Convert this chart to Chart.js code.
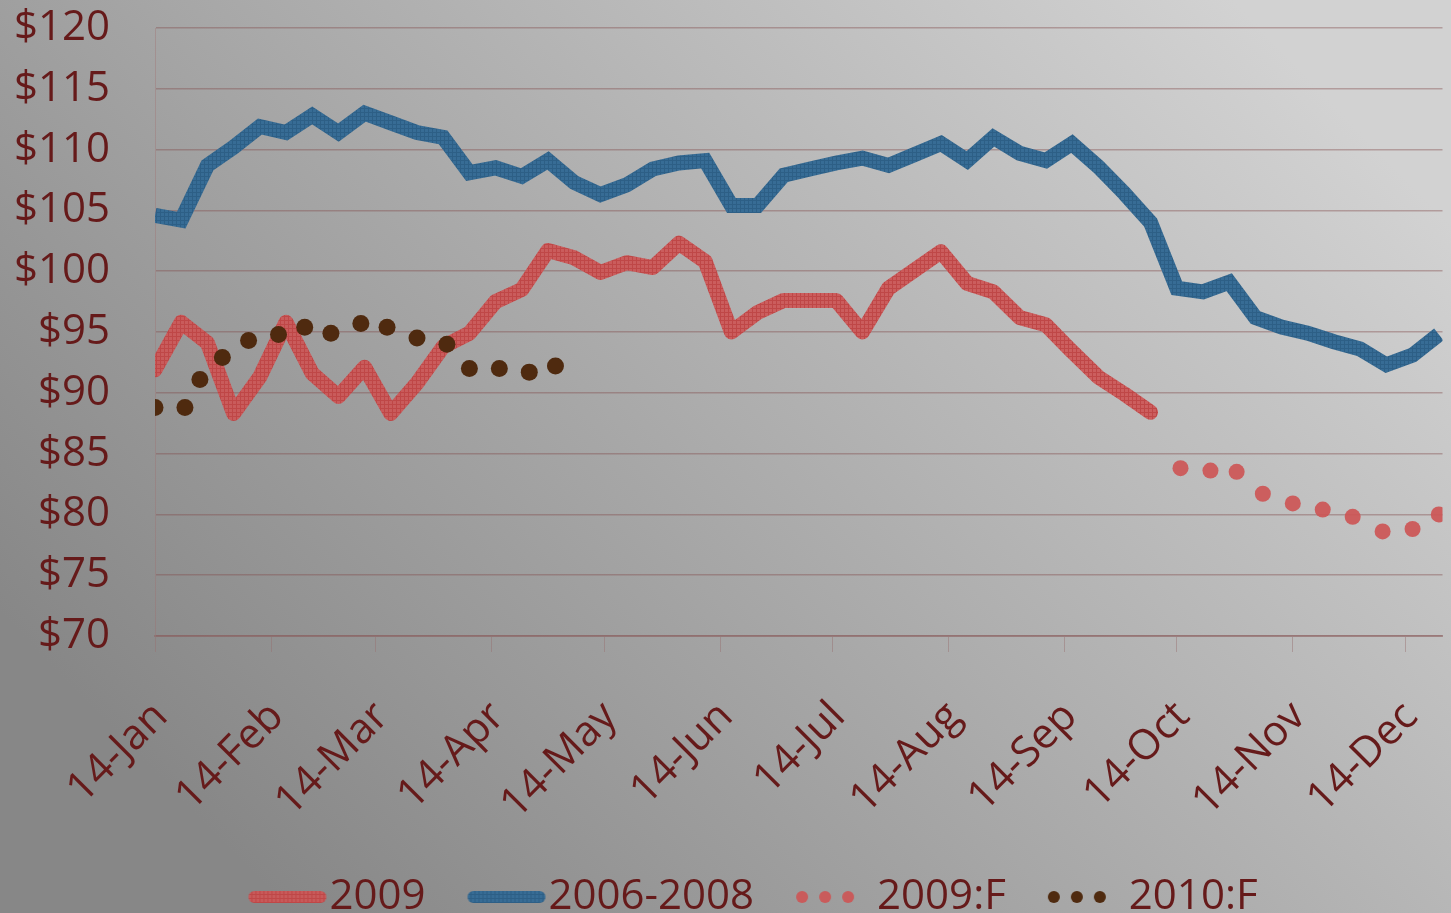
<!DOCTYPE html>
<html>
<head>
<meta charset="utf-8">
<script src="https://cdn.jsdelivr.net/npm/chart.js@4"></script>
<style>
  html, body { margin: 0; padding: 0; background: #a0a0a0; }
</style>
</head>
<body>
<canvas id="priceChart" width="1451" height="913"></canvas>
<script>
// weekly observation dates (month-day) for the two solid lines
var weekDates = ["01-14","01-21","01-28","02-04","02-11","02-18","02-25","03-04","03-11","03-18",
                 "03-25","04-01","04-08","04-15","04-22","04-29","05-06","05-13","05-20","05-27",
                 "06-03","06-10","06-17","06-24","07-01","07-08","07-15","07-22","07-29","08-05",
                 "08-12","08-19","08-26","09-02","09-09","09-16","09-23","09-30","10-07","10-14",
                 "10-21","10-28","11-04","11-11","11-18","11-25","12-02","12-09","12-16","12-23"];

// 2009 actual (ends early Oct)
var prices2009 = [91.9, 95.8, 94.1, 88.3, 91.3, 95.8, 91.6, 89.7, 92.1, 88.3,
                  90.8, 93.8, 94.9, 97.5, 98.5, 101.7, 101.1, 99.9, 100.7, 100.3,
                  102.3, 100.8, 95.0, 96.6, 97.6, 97.6, 97.6, 95.0, 98.6, 100.1,
                  101.6, 99.0, 98.3, 96.2, 95.6, 93.4, 91.3, 89.9, 88.4];

// 2006-2008 average
var prices0608 = [104.6, 104.2, 108.7, 110.2, 111.9, 111.4, 112.8, 111.4, 113.0, 112.2,
                  111.4, 111.0, 108.1, 108.5, 107.8, 109.1, 107.3, 106.3, 107.1, 108.4,
                  108.9, 109.1, 105.4, 105.4, 107.9, 108.4, 108.9, 109.3, 108.7, 109.6,
                  110.5, 109.1, 111.0, 109.7, 109.1, 110.5, 108.6, 106.4, 104.0, 98.6,
                  98.3, 99.1, 96.2, 95.4, 94.9, 94.2, 93.6, 92.3, 93.1, 94.8];

// 2009 forecast
var forecast2009Dates = ["10-15","10-23","10-30","11-06","11-14","11-22","11-30","12-08","12-16","12-23"];
var forecast2009 = [83.8, 83.6, 83.5, 81.7, 80.9, 80.4, 79.8, 78.6, 78.8, 80.0];

// 2010 forecast
var forecast2010Dates = ["01-14","01-22","01-26","02-01","02-08","02-16","02-23","03-02","03-10","03-17",
                         "03-25","04-02","04-08","04-16","04-24","05-01"];
var forecast2010 = [88.8, 88.8, 91.1, 92.9, 94.3, 94.8, 95.4, 94.9, 95.7, 95.4,
                    94.5, 94.0, 92.0, 92.0, 91.7, 92.2];

var monthTickDates = ["01-14","02-14","03-14","04-14","05-14","06-14","07-14","08-14","09-14","10-14","11-14","12-14"];
var monthTickLabels = ["14-Jan","14-Feb","14-Mar","14-Apr","14-May","14-Jun","14-Jul","14-Aug","14-Sep","14-Oct","14-Nov","14-Dec"];
var axisEndDate = "12-24";

var yMin = 70, yMax = 120, yStep = 5;

var labelColor = '#661a1a';
var fontFamily = '"Open Sans", "Noto Sans", sans-serif';
var redBase = 'rgba(204, 86, 86, 0.93)';
var blueBase = '#376c95';
var brown = '#4f2a0f';

// days since 14 Jan
function dayOf(md) {
    var p = md.split('-');
    return (Date.UTC(2009, +p[0] - 1, +p[1]) - Date.UTC(2009, 0, 14)) / 86400000;
}

function toPoints(dates, values) {
    return values.map(function (v, i) { return { x: dayOf(dates[i]), y: v }; });
}

// small cross-hatch texture like the original line fill
function hatch(base, line) {
    var c = document.createElement('canvas');
    c.width = 4; c.height = 4;
    var g = c.getContext('2d');
    g.fillStyle = base;
    g.fillRect(0, 0, 4, 4);
    g.fillStyle = line;
    g.fillRect(0, 0, 4, 1);
    g.fillRect(0, 1, 1, 3);
    return g.createPattern(c, 'repeat');
}

var red = hatch(redBase, 'rgba(190, 70, 70, 0.95)');
var blue = hatch(blueBase, '#2d5f86');

// legend samples
function lineSample(fill) {
    var c = document.createElement('canvas');
    c.width = 80; c.height = 14;
    var g = c.getContext('2d');
    g.fillStyle = fill;
    g.beginPath();
    g.roundRect(1, 1, 78, 12, 6);
    g.fill();
    return c;
}

function dotSample(fill) {
    var c = document.createElement('canvas');
    c.width = 80; c.height = 14;
    var g = c.getContext('2d');
    g.fillStyle = fill;
    [7, 30, 53].forEach(function (x) {
        g.beginPath();
        g.arc(x, 7, 6, 0, Math.PI * 2);
        g.fill();
    });
    return c;
}

var bgPlugin = {
    id: 'bg',
    beforeDraw: function (chart) {
        var ctx = chart.ctx;
        var grad = ctx.createLinearGradient(chart.width * 0.85, 0, chart.width * 0.2, chart.height);
        grad.addColorStop(0, '#d2d2d2');
        grad.addColorStop(1, '#878787');
        ctx.save();
        ctx.fillStyle = grad;
        ctx.fillRect(0, 0, chart.width, chart.height);
        ctx.restore();
    }
};

// centre the legend a little right of the canvas centre, like the original
var legendShift = {
    id: 'legendShift',
    afterLayout: function (chart) {
        chart.legend.left = 73;
    }
};

var ctx = document.getElementById('priceChart');
var priceChart = new Chart(ctx, {
    type: 'line',
    data: {
        datasets: [{
            label: '2009',
            data: toPoints(weekDates, prices2009),
            borderColor: red,
            borderWidth: 15,
            borderJoinStyle: 'round',
            borderCapStyle: 'round',
            pointRadius: 0,
            clip: 0,
            order: 2
        }, {
            label: '2006-2008',
            data: toPoints(weekDates, prices0608),
            borderColor: blue,
            borderWidth: 15,
            borderJoinStyle: 'miter',
            pointRadius: 0,
            clip: 0,
            order: 3
        }, {
            label: '2009:F',
            data: toPoints(forecast2009Dates, forecast2009),
            showLine: false,
            pointRadius: 8,
            pointBackgroundColor: redBase,
            pointBorderWidth: 0,
            clip: 0,
            order: 1
        }, {
            label: '2010:F',
            data: toPoints(forecast2010Dates, forecast2010),
            showLine: false,
            pointRadius: 8.5,
            pointBackgroundColor: brown,
            pointBorderWidth: 0,
            clip: 0,
            order: 0
        }]
    },
    options: {
        responsive: false,
        animation: false,
        layout: {
            padding: { top: 28, left: 0, right: 0, bottom: -15 }
        },
        scales: {
            x: {
                type: 'linear',
                min: 0,
                max: dayOf(axisEndDate),
                afterBuildTicks: function (scale) {
                    scale.ticks = monthTickDates.map(function (d) { return { value: dayOf(d) }; });
                },
                afterFit: function (scale) {
                    scale.height = 180;
                    scale.paddingRight = 0;
                },
                grid: {
                    drawOnChartArea: false,
                    drawTicks: true,
                    tickLength: 16,
                    tickColor: 'rgba(150, 110, 110, 0.45)',
                    tickWidth: 1
                },
                border: { display: true, color: 'rgba(140, 95, 95, 0.5)', width: 2 },
                ticks: {
                    autoSkip: false,
                    minRotation: 45,
                    maxRotation: 45,
                    padding: 40,
                    labelOffset: 6,
                    color: labelColor,
                    font: { family: fontFamily, size: 42 },
                    callback: function (value, index) { return monthTickLabels[index]; }
                }
            },
            y: {
                min: yMin,
                max: yMax,
                afterFit: function (scale) {
                    scale.width = 155;
                    scale.paddingTop = 0;
                    scale.paddingBottom = 0;
                },
                grid: {
                    color: 'rgba(130, 75, 75, 0.4)',
                    lineWidth: 1.5,
                    drawTicks: false
                },
                border: { display: true, color: 'rgba(160, 110, 110, 0.35)', width: 1 },
                ticks: {
                    stepSize: yStep,
                    padding: 45,
                    color: labelColor,
                    font: { family: fontFamily, size: 42 },
                    callback: function (v) { return '$' + v; }
                }
            }
        },
        plugins: {
            tooltip: { enabled: false },
            legend: {
                position: 'bottom',
                labels: {
                    usePointStyle: true,
                    pointStyleWidth: 42,
                    padding: 60,
                    color: labelColor,
                    font: { family: fontFamily, size: 42 },
                    generateLabels: function (chart) {
                        var samples = [lineSample(red), lineSample(blue), dotSample(redBase), dotSample(brown)];
                        return chart.data.datasets.map(function (ds, i) {
                            return {
                                text: ds.label,
                                pointStyle: samples[i],
                                fillStyle: 'transparent',
                                strokeStyle: 'transparent',
                                lineWidth: 0,
                                hidden: false,
                                datasetIndex: i,
                                fontColor: labelColor
                            };
                        });
                    }
                }
            }
        }
    },
    plugins: [bgPlugin, legendShift]
});
</script>
</body>
</html>
